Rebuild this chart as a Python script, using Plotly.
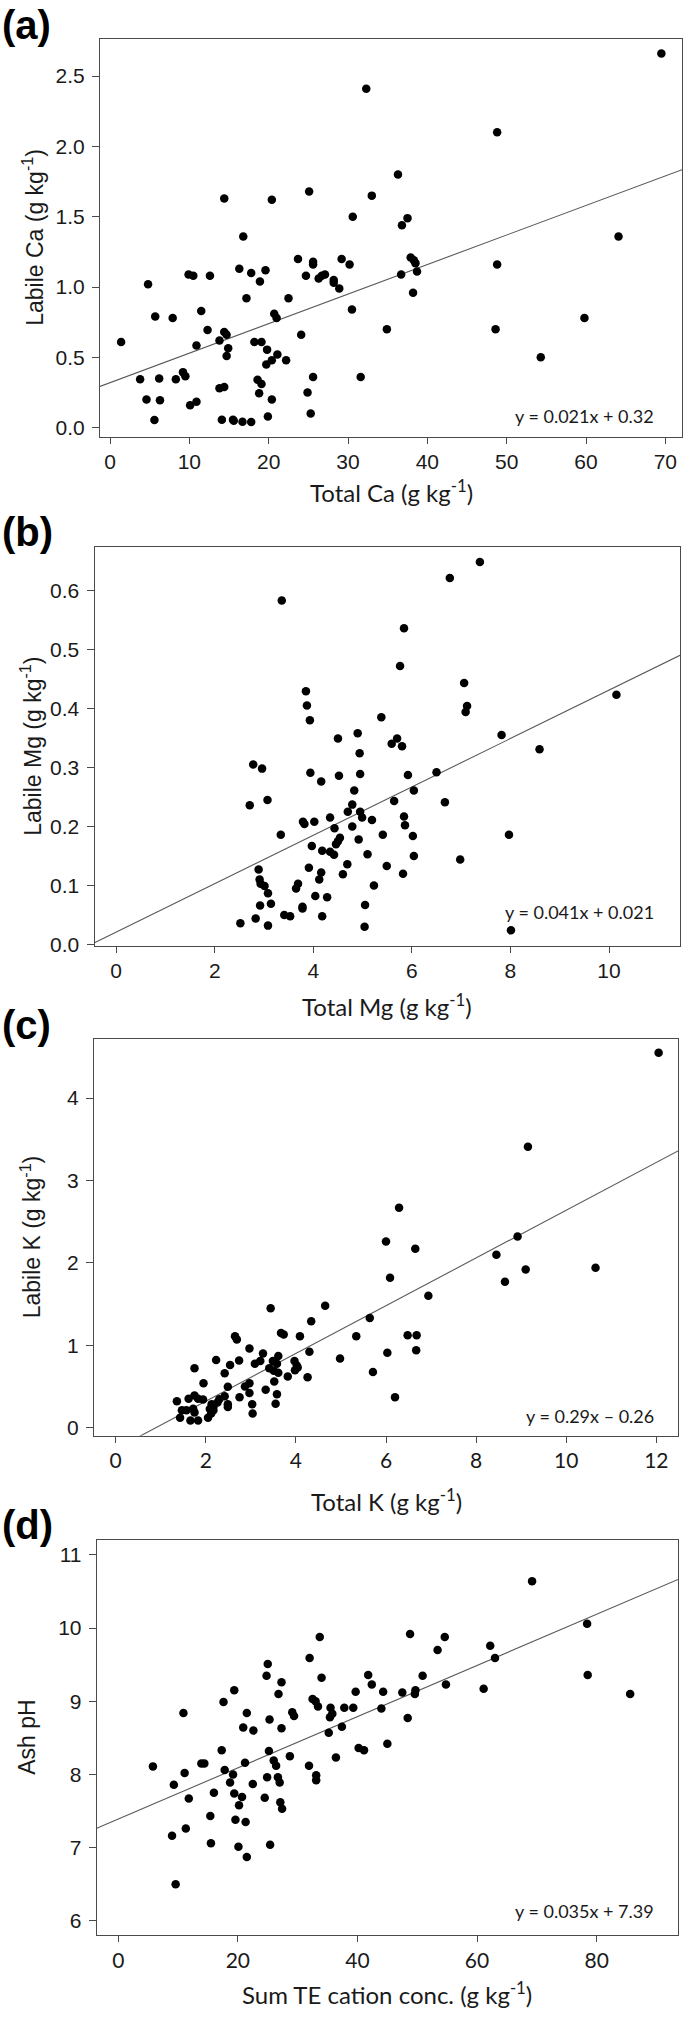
import plotly.graph_objects as go

# ---------------- data ----------------
ca_total = [69.5, 32.3, 48.8, 36.3, 14.4, 20.4, 25.1, 33.0, 30.6, 37.5, 36.8, 16.8, 64.1,
            1.4, 3.8, 4.6, 4.8, 5.7, 5.6, 6.2, 6.3, 7.9, 8.3, 9.2, 9.5, 9.9, 10.5, 10.1, 10.9,
            10.9, 11.5, 12.3, 12.6, 13.8, 13.8, 14.4, 14.1, 14.4, 14.7, 14.9, 14.7, 15.5, 15.6,
            16.3, 16.7, 17.2, 17.8, 17.8, 18.2, 18.6, 18.8, 18.9, 19.1, 19.1, 19.6, 19.7, 19.8,
            19.9, 20.4, 20.4, 20.7, 21.0, 21.1, 22.2, 22.5, 24.1, 24.7, 24.9, 25.3, 25.6, 25.6,
            25.6, 26.3, 26.7, 27.1, 28.2, 28.2, 28.9, 29.2, 30.2, 30.5, 31.6, 34.9, 36.7, 37.9,
            38.3, 38.5, 38.7, 38.2, 48.8, 48.6, 54.3, 59.8, 23.7]
ca_labile = [2.66, 2.41, 2.10, 1.80, 1.63, 1.62, 1.68, 1.65, 1.50, 1.49, 1.44, 1.36, 1.36,
             0.61, 0.345, 0.20, 1.02, 0.79, 0.055, 0.35, 0.195, 0.78, 0.345, 0.395, 0.365, 1.09,
             1.08, 0.16, 0.185, 0.585, 0.83, 0.695, 1.08, 0.62, 0.28, 0.29, 0.057, 0.68, 0.66,
             0.565, 0.51, 0.057, 0.05, 1.13, 0.043, 0.92, 1.10, 0.04, 0.61, 0.34, 0.245, 1.04,
             0.61, 0.31, 1.12, 0.45, 0.555, 0.08, 0.20, 0.48, 0.81, 0.78, 0.52, 0.48, 0.92, 0.66,
             1.08, 0.25, 0.10, 0.36, 1.16, 1.18, 1.06, 1.08, 1.09, 1.05, 1.03, 0.99, 1.20, 1.16,
             0.84, 0.36, 0.70, 1.09, 1.21, 1.19, 1.17, 1.11, 0.96, 1.16, 0.70, 0.50, 0.78, 1.20]

mg_total = [7.38, 6.77, 3.36, 5.84, 5.76, 7.06, 7.12, 7.09, 3.85, 3.87, 3.93, 5.38, 10.15,
            4.50, 4.90, 5.70, 5.59, 5.80, 4.94, 7.82, 8.59,
            2.78, 2.96, 3.94, 4.52, 4.95, 5.92, 6.50, 4.16, 2.71, 3.07, 4.83, 6.04, 5.64, 6.67,
            4.79, 4.70, 4.95, 4.99, 4.34, 5.19, 5.84, 5.86, 3.79, 4.02, 3.82, 4.79, 4.43, 3.34,
            5.41, 6.02, 7.97, 4.54, 4.50, 4.46, 4.92, 3.97, 4.18, 4.34, 4.42, 5.10, 6.04, 6.98,
            5.49, 4.69, 2.89, 3.91, 4.16, 4.60, 5.82, 2.91, 4.12, 2.93, 3.69, 3.01, 5.23, 3.65,
            3.08, 4.04, 4.28, 2.92, 3.14, 3.78, 3.78, 5.05, 3.41, 3.53, 4.18, 2.52, 2.83, 3.08,
            5.04, 8.01]
mg_labile = [0.648, 0.621, 0.583, 0.536, 0.472, 0.443, 0.404, 0.394, 0.429, 0.405, 0.380, 0.385,
             0.423, 0.349, 0.358, 0.349, 0.340, 0.336, 0.324, 0.355, 0.331,
             0.305, 0.298, 0.291, 0.286, 0.289, 0.287, 0.292, 0.276, 0.236, 0.245, 0.261, 0.261,
             0.243, 0.241, 0.237, 0.225, 0.225, 0.215, 0.215, 0.211, 0.217, 0.202, 0.208, 0.208,
             0.204, 0.200, 0.197, 0.186, 0.186, 0.184, 0.186, 0.181, 0.175, 0.170, 0.178, 0.167,
             0.159, 0.157, 0.152, 0.153, 0.150, 0.144, 0.133, 0.136, 0.127, 0.130, 0.122, 0.119,
             0.120, 0.110, 0.110, 0.103, 0.103, 0.099, 0.100, 0.095, 0.087, 0.082, 0.080, 0.066,
             0.069, 0.064, 0.061, 0.067, 0.050, 0.048, 0.048, 0.036, 0.044, 0.032, 0.030, 0.024]

k_total = [12.05, 9.15, 6.29, 6.00, 6.65, 8.92, 8.45, 9.10, 10.65,
           6.09, 8.64, 6.94, 4.65, 3.44, 5.64, 4.34, 2.65, 2.69, 3.67, 3.73, 4.09, 5.34, 6.48,
           6.68, 2.97, 3.27, 4.30, 6.03, 6.67, 2.23, 2.74, 3.21, 3.49, 3.61, 4.98, 3.09, 2.54,
           3.58, 3.97, 4.02, 3.41, 3.51, 4.04, 3.98, 1.75, 2.42, 3.61, 3.82, 5.71, 4.26, 3.52,
           1.95, 2.97, 2.87, 2.49, 3.58, 2.97, 3.33, 2.75, 6.20, 1.36, 1.62, 1.75, 1.83, 1.94,
           2.30, 2.42, 2.13, 2.26, 1.47, 1.57, 1.72, 1.75, 2.09, 2.17, 2.49, 2.49, 3.03, 3.55,
           3.04, 1.43, 1.66, 1.83, 2.05, 2.12, 2.17]
k_labile = [4.55, 3.41, 2.67, 2.26, 2.17, 2.32, 2.10, 1.92, 1.94,
            1.82, 1.77, 1.60, 1.48, 1.45, 1.33, 1.29, 1.11, 1.07, 1.15, 1.13, 1.11, 1.11, 1.12,
            1.12, 0.96, 0.90, 0.92, 0.91, 0.94, 0.82, 0.815, 0.81, 0.81, 0.87, 0.84, 0.775, 0.76,
            0.775, 0.81, 0.755, 0.72, 0.69, 0.73, 0.695, 0.72, 0.66, 0.665, 0.62, 0.675, 0.61,
            0.56, 0.54, 0.54, 0.50, 0.495, 0.405, 0.42, 0.46, 0.37, 0.37, 0.32, 0.35, 0.39, 0.35,
            0.34, 0.345, 0.38, 0.285, 0.305, 0.21, 0.21, 0.23, 0.185, 0.225, 0.25, 0.25, 0.285,
            0.285, 0.29, 0.17, 0.12, 0.085, 0.085, 0.12, 0.17, 0.21]

te_sum = [69.2, 78.4, 78.5, 85.6, 48.8, 54.6, 33.7, 53.4, 62.2, 63.0, 32.0, 25.0, 24.8, 34.0,
          41.8, 50.9, 27.3, 42.4, 54.8, 61.1, 19.4, 26.8, 39.7, 44.3, 47.5, 49.7, 49.6, 32.5,
          33.0, 17.6, 33.4, 35.5, 37.8, 39.3, 44.0, 10.9, 21.5, 29.1, 29.4, 35.8, 35.4, 48.4,
          25.3, 20.9, 22.6, 27.3, 37.4, 35.2, 45.0, 40.2, 41.1, 17.3, 25.2,
          5.8, 11.1, 9.3, 13.9, 14.4, 17.8, 21.2, 19.2, 18.7, 26.0, 26.4, 28.7, 31.9, 36.4,
          24.9, 26.7, 27.0, 22.5, 33.1, 33.1, 16.0, 19.4, 20.7, 11.8, 24.5, 27.1, 27.4, 20.2,
          15.4, 19.6, 21.3, 11.3, 9.0, 15.5, 25.4, 20.1, 21.5, 9.6]
ash_ph = [10.64, 10.06, 9.36, 9.10, 9.92, 9.88, 9.88, 9.70, 9.76, 9.59, 9.59, 9.51, 9.35, 9.32,
          9.36, 9.35, 9.26, 9.23, 9.23, 9.17, 9.15, 9.10, 9.13, 9.13, 9.12, 9.15, 9.10, 9.03,
          9.00, 8.99, 8.93, 8.91, 8.91, 8.91, 8.90, 8.84, 8.84, 8.85, 8.80, 8.83, 8.78, 8.77,
          8.75, 8.64, 8.60, 8.63, 8.65, 8.57, 8.42, 8.36, 8.33, 8.33, 8.32,
          8.11, 8.02, 7.86, 8.15, 8.15, 8.06, 8.16, 8.00, 7.89, 8.19, 8.12, 8.25, 8.12, 8.23,
          7.96, 7.96, 7.89, 7.87, 7.99, 7.92, 7.75, 7.74, 7.69, 7.67, 7.68, 7.62, 7.53, 7.58,
          7.43, 7.38, 7.35, 7.26, 7.16, 7.06, 7.04, 7.01, 6.87, 6.50]

# regression coefficients (slope, intercept) and labels
fits = [(0.021, 0.32), (0.041, 0.021), (0.29, -0.26), (0.035, 7.39)]
eq_text = ["y = 0.021x + 0.32", "y = 0.041x + 0.021", "y = 0.29x \u2013 0.26", "y = 0.035x + 7.39"]
panel_labels = ["(a)", "(b)", "(c)", "(d)"]
x_titles = ["Total Ca (g kg<sup>-1</sup>)", "Total Mg (g kg<sup>-1</sup>)",
            "Total K (g kg<sup>-1</sup>)", "Sum TE cation conc. (g kg<sup>-1</sup>)"]
y_titles = ["Labile Ca (g kg<sup>-1</sup>)", "Labile Mg (g kg<sup>-1</sup>)",
            "Labile K (g kg<sup>-1</sup>)", "Ash pH"]
x_ticks = [[0, 10, 20, 30, 40, 50, 60, 70], [0, 2, 4, 6, 8, 10], [0, 2, 4, 6, 8, 10, 12],
           [0, 20, 40, 60, 80]]
y_ticks = [[0.0, 0.5, 1.0, 1.5, 2.0, 2.5], [0.0, 0.1, 0.2, 0.3, 0.4, 0.5, 0.6],
           [0, 1, 2, 3, 4], [6, 7, 8, 9, 10, 11]]
y_tickfmt = [".1f", ".1f", "d", "d"]

# ---------------- layout geometry (pixels) ----------------
W, H = 685, 2018
frames = [  # left, right, top, bottom
    (100, 682, 39, 439),
    (94.5, 680, 550, 951),
    (94, 678, 1044, 1443),
    (96.7, 678, 1548, 1945),
]
x_ranges = [[-1.26, 72.1], [-0.44, 11.44], [-0.48, 12.48], [-3.6, 93.6]]
y_ranges = [[-0.065, 2.765], [-0.003, 0.673], [-0.10, 4.72], [5.8, 11.2]]
label_y = [25, 535, 1030, 1533]
xtitle_y = [493, 1010, 1507, 2003]
ytitle_x = [33, 31, 31, 27]
eq_y = [418, 917, 1423, 1921]
eq_right = 656

xs = [ca_total, mg_total, k_total, te_sum]
ys = [ca_labile, mg_labile, k_labile, ash_ph]

AX_COL = "#4a4a4a"
TICK_FONT = dict(family="Liberation Sans, Arial, sans-serif", size=21, color="#1a1a1a")
CAL_FONT = "Lato, Carlito, Calibri, sans-serif"

fig = go.Figure()
layout = dict(width=W, height=H, margin=dict(l=0, r=0, t=0, b=0),
              paper_bgcolor="white", plot_bgcolor="white", showlegend=False,
              hovermode=False)
annotations = []

for i in range(4):
    sfx = "" if i == 0 else str(i + 1)
    l, r, t, b = frames[i]
    xd = [l / W, r / W]
    yd = [1 - b / H, 1 - t / H]
    x_font = TICK_FONT if i < 2 else dict(family=CAL_FONT, size=21, color="#1a1a1a")
    layout["xaxis" + sfx] = dict(
        domain=xd, range=x_ranges[i], anchor="y" + sfx, showgrid=False, zeroline=False,
        showline=True, mirror=True, linecolor=AX_COL, linewidth=1,
        ticks="outside", ticklen=6, tickcolor=AX_COL, tickwidth=1,
        tickmode="array", tickvals=x_ticks[i], tickfont=x_font,
    )
    layout["yaxis" + sfx] = dict(
        domain=yd, range=y_ranges[i], anchor="x" + sfx, showgrid=False, zeroline=False,
        showline=True, mirror=True, linecolor=AX_COL, linewidth=1,
        ticks="outside", ticklen=7, tickcolor=AX_COL, tickwidth=1,
        tickmode="array", tickvals=y_ticks[i], tickformat=y_tickfmt[i], tickfont=TICK_FONT,
        ticklabelstandoff=3,
    )
    # regression line across the panel's x range
    m, c = fits[i]
    lx = list(x_ranges[i])
    ly = [m * v + c for v in lx]
    fig.add_trace(go.Scatter(x=lx, y=ly, mode="lines", xaxis="x" + sfx, yaxis="y" + sfx,
                             line=dict(color="#5a5a5a", width=1.1)))
    fig.add_trace(go.Scatter(x=xs[i], y=ys[i], mode="markers", xaxis="x" + sfx, yaxis="y" + sfx,
                             marker=dict(color="black", size=8.5, line=dict(width=0))))
    # panel letter
    annotations.append(dict(text="<b>" + panel_labels[i] + "</b>", x=0, y=1 - label_y[i] / H,
                            xref="paper", yref="paper", xanchor="left", yanchor="middle",
                            showarrow=False, font=dict(family="Liberation Sans, Arial", size=40,
                                                       color="black")))
    # equation
    annotations.append(dict(text=eq_text[i], x=eq_right / W, y=1 - eq_y[i] / H,
                            xref="paper", yref="paper", xanchor="right", yanchor="middle",
                            showarrow=False, font=dict(family=CAL_FONT, size=18, color="#1a1a1a")))
    # x title
    annotations.append(dict(text=x_titles[i], x=(l + r) / 2 / W, y=1 - xtitle_y[i] / H,
                            xref="paper", yref="paper", xanchor="center", yanchor="middle",
                            showarrow=False, font=dict(family=CAL_FONT, size=24, color="#1a1a1a")))
    # y title
    annotations.append(dict(text=y_titles[i], x=ytitle_x[i] / W, y=1 - (t + b) / 2 / H,
                            xref="paper", yref="paper", xanchor="center", yanchor="middle",
                            textangle=-90, showarrow=False,
                            font=dict(family="Liberation Sans, Arial", size=23, color="#1a1a1a")))

layout["annotations"] = annotations
fig.update_layout(**layout)
fig.write_html("out.html",
               config={"displayModeBar": False},
               post_script="document.body.style.margin='0';"
                           "document.body.style.overflow='hidden';"
                           "document.documentElement.style.overflow='hidden';")
